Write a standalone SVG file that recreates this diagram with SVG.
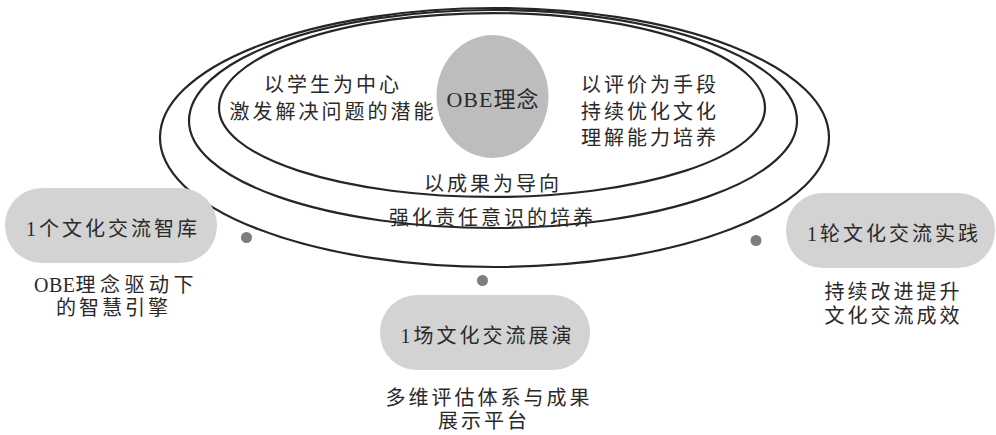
<svg xmlns="http://www.w3.org/2000/svg" width="996" height="435" viewBox="0 0 996 435">
<style>
.ring{fill:none;stroke:#262626;stroke-width:2.2}
.pill{fill:#d3d3d3}
.dot{fill:#7d7d7d}
text{font-family:"Liberation Serif","Noto Sans CJK SC",serif;font-size:20px;fill:#2a2a2a;letter-spacing:3px}
.c{text-anchor:middle}
.lat{letter-spacing:0.5px}
</style>
<rect width="996" height="435" fill="#ffffff"/>
<g id="ring-outer"><path class="ring" d="M160,137.5 A334.5,129.5 0 0 1 829,137.5 A334.5,129.5 0 0 1 160,137.5 Z"/></g>
<g id="ring-middle"><path class="ring" d="M189,121 A304,111 0 0 1 797,121 A304,107 0 0 1 189,121 Z"/></g>
<g id="ring-inner"><path class="ring" d="M219,108 A273,95 0 0 1 765,108 A273,89 0 0 1 219,108 Z"/></g>
<g id="obe">
<ellipse cx="492.5" cy="96.5" rx="56" ry="61.5" fill="#bdbdbd"/>
<text class="c" x="493" y="107" style="font-size:22px;letter-spacing:1px">OBE理念</text>
</g>
<g id="left-text">
<text class="c" x="333" y="92">以学生为中心</text>
<text class="c" x="333" y="119">激发解决问题的潜能</text>
</g>
<g id="right-text">
<text x="581" y="92">以评价为手段</text>
<text x="581" y="118.5">持续优化文化</text>
<text x="581" y="145">理解能力培养</text>
</g>
<g id="bottom-text">
<text class="c" x="493" y="190.5">以成果为导向</text>
<text class="c" x="492.5" y="224.5">强化责任意识的培养</text>
</g>
<g id="connectors">
<circle class="dot" cx="246.5" cy="237.5" r="5.5"/>
<circle class="dot" cx="482.5" cy="280.5" r="5.5"/>
<circle class="dot" cx="756" cy="240.5" r="5.5"/>
</g>
<g id="node-think-tank">
<rect class="pill" x="5" y="188" width="212" height="75" rx="37"/>
<text class="c" x="113" y="235.5">1个文化交流智库</text>
<text class="c" x="116" y="292"><tspan class="lat">OBE</tspan><tspan style="letter-spacing:4.5px">理念驱动下</tspan></text>
<text class="c" x="113.5" y="315">的智慧引擎</text>
</g>
<g id="node-show">
<rect class="pill" x="380" y="295" width="210" height="75" rx="37"/>
<text class="c" x="487.5" y="342.5">1场文化交流展演</text>
<text class="c" x="489" y="405">多维评估体系与成果</text>
<text class="c" x="484" y="428">展示平台</text>
</g>
<g id="node-practice">
<rect class="pill" x="786" y="193" width="209" height="75" rx="37"/>
<text class="c" x="894" y="240.5">1轮文化交流实践</text>
<text class="c" x="893.5" y="298.5">持续改进提升</text>
<text class="c" x="893.5" y="322.5">文化交流成效</text>
</g>
</svg>
